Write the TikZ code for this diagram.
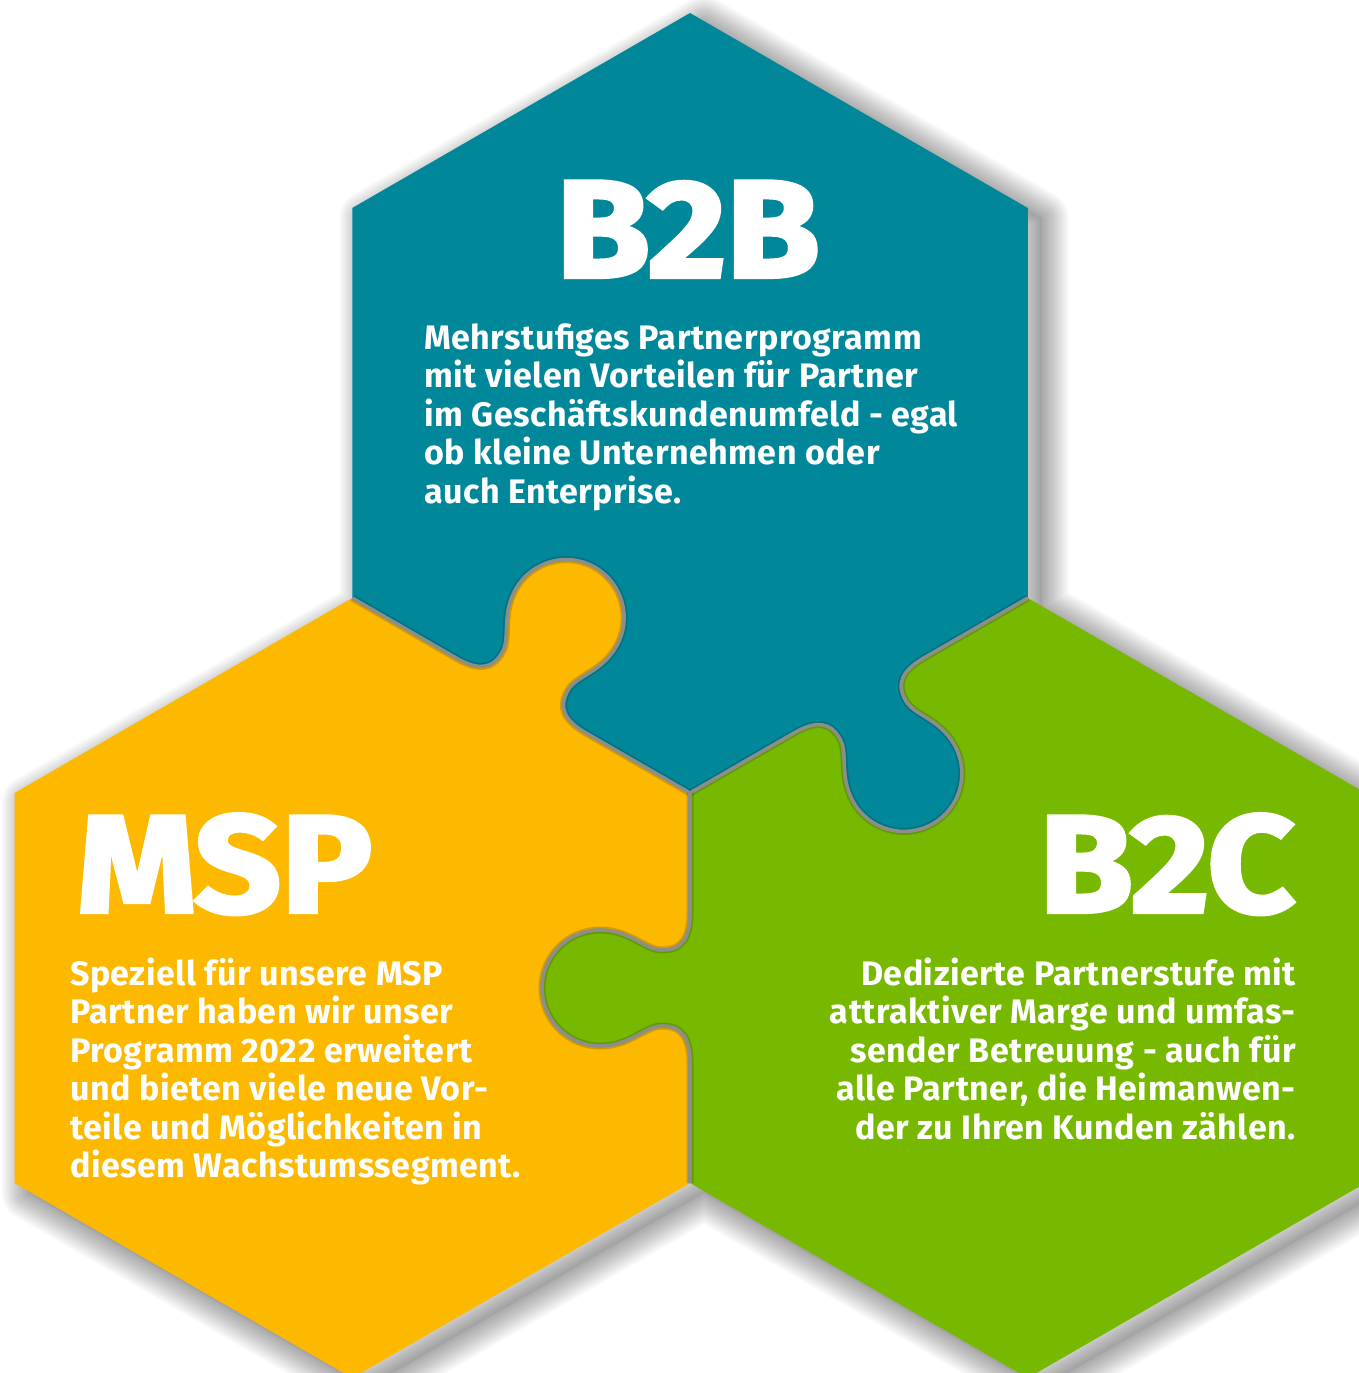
\documentclass[tikz,border=0pt]{standalone}
\usepackage{fontspec}
\setmainfont{Fira Sans}[LetterSpace=1.5]
\newfontfamily\titlefont{Fira Sans}[FakeBold=3, FakeStretch=1.1]
\definecolor{pzteal}{RGB}{0,136,154}
\definecolor{pzyellow}{RGB}{253,184,0}
\definecolor{pzgreen}{RGB}{119,184,0}
\definecolor{seamgray}{RGB}{140,142,138}
\begin{document}
\begin{tikzpicture}[x=1pt,y=1pt,
  seam/.style={draw=seamgray, line width=3.6pt, line join=round},
  seamshade/.style={draw=black, opacity=0.16, line width=7pt, line join=round},
  bodytext/.style={text=white, inner sep=0pt, font=\fontsize{34}{38.5}\selectfont\bfseries},
  titletext/.style={text=white, inner sep=0pt, font=\titlefont\bfseries\fontsize{138}{138}\selectfont},
]
\useasboundingbox (0,0) rectangle (1359,-1373);
\clip (0,0) rectangle (1359,-1373);
\fill[white] (0,0) rectangle (1359,-1373);

% vertices
\coordinate (T0) at (690,-13);
\coordinate (T1) at (1027.75,-208);
\coordinate (T2) at (1027.75,-598);
\coordinate (T3) at (690,-793);
\coordinate (T4) at (352.25,-598);
\coordinate (T5) at (352.25,-208);
\coordinate (Y3) at (352.25,-1378);
\coordinate (Y4) at (14.5,-1183);
\coordinate (Y5) at (14.5,-793);
\coordinate (C4) at (690,-1183);
\coordinate (G1) at (1365.5,-793);
\coordinate (G2) at (1365.5,-1183);
\coordinate (G3) at (1027.75,-1378);

\def\unionpath{(690,-13) -- (1027.75,-208) -- (1027.75,-598) -- (1365.5,-793) -- (1365.5,-1183) -- (1027.75,-1378) -- (690,-1183) -- (352.25,-1378) -- (14.5,-1183) -- (14.5,-793) -- (352.25,-598) -- (352.25,-208) -- cycle}

% soft shadow
\begin{scope}[shift={(14,-10)}]
  \foreach \w in {3,6,...,54} \draw[black, opacity=0.018, line width=\w pt, line join=round] \unionpath;
  \fill[black, opacity=0.05] \unionpath;
\end{scope}

% hexagons
\fill[pzteal] (T0) -- (T1) -- (T2) -- (T3) -- (T4) -- (T5) -- cycle;
\fill[pzyellow] (T4) -- (T3) -- (C4) -- (Y3) -- (Y4) -- (Y5) -- cycle;
\fill[pzgreen] (T2) -- (G1) -- (G2) -- (G3) -- (C4) -- (T3) -- cycle;

\def\knob{(-75,0) .. controls (-50,0) and (-38,8) .. (-38,28) .. controls (-38,45) and (-58,60) .. (-58,90) arc[start angle=180,end angle=0,radius=58] .. controls (58,60) and (38,45) .. (38,28) .. controls (38,8) and (50,0) .. (75,0)}

% yellow knob into teal
\begin{scope}[shift={(352.25,-598)}, rotate=-30, shift={(195,0)}]
  \fill[pzyellow] \knob -- (75,-5) -- (-75,-5) -- cycle;
  \draw[seamshade] (-195,0) -- \knob -- (195,0);
  \draw[seam] (-195,0) -- \knob -- (195,0);
\end{scope}
% teal knob into green
\begin{scope}[shift={(1027.75,-598)}, rotate=210, shift={(195,0)}]
  \fill[pzteal] \knob -- (75,-5) -- (-75,-5) -- cycle;
  \draw[seamshade] (-195,0) -- \knob -- (195,0);
  \draw[seam] (-195,0) -- \knob -- (195,0);
\end{scope}
% green knob into yellow
\begin{scope}[shift={(690,-1183)}, rotate=90, shift={(195,0)}]
  \fill[pzgreen] \knob -- (75,-5) -- (-75,-5) -- cycle;
  \draw[seamshade] (-195,0) -- \knob -- (195,0);
  \draw[seam] (-195,0) -- \knob -- (195,0);
\end{scope}

% titles
\node[titletext, anchor=base west] (b2btitle) at (556,-277) {B2B};
\node[titletext, anchor=base west] (msptitle) at (77,-912) {MSP};
\node[titletext, anchor=base east] (b2ctitle) at (1295,-912) {B2C};

% body texts
\foreach \t [count=\i] in {Mehrstufiges Partnerprogramm, mit vielen Vorteilen für Partner, {im Geschäftskundenumfeld - egal}, ob kleine Unternehmen oder, auch Enterprise.}
  \node[bodytext, anchor=base west] (b2bline\i) at (424,{-349-38.5*(\i-1)}) {\t};
\foreach \t [count=\i] in {Speziell für unsere MSP, Partner haben wir unser, Programm 2022 erweitert, und bieten viele neue Vor-, teile und Möglichkeiten in, diesem Wachstumssegment.}
  \node[bodytext, anchor=base west] (mspline\i) at (70,{-985-38.5*(\i-1)}) {\t};
\foreach \t [count=\i] in {Dedizierte Partnerstufe mit, attraktiver Marge und umfas-, sender Betreuung - auch für, {alle Partner, die Heimanwen-}, der zu Ihren Kunden zählen.}
  \node[bodytext, anchor=base east] (b2cline\i) at (1296,{-985-38.5*(\i-1)}) {\t};
\end{tikzpicture}
\end{document}
